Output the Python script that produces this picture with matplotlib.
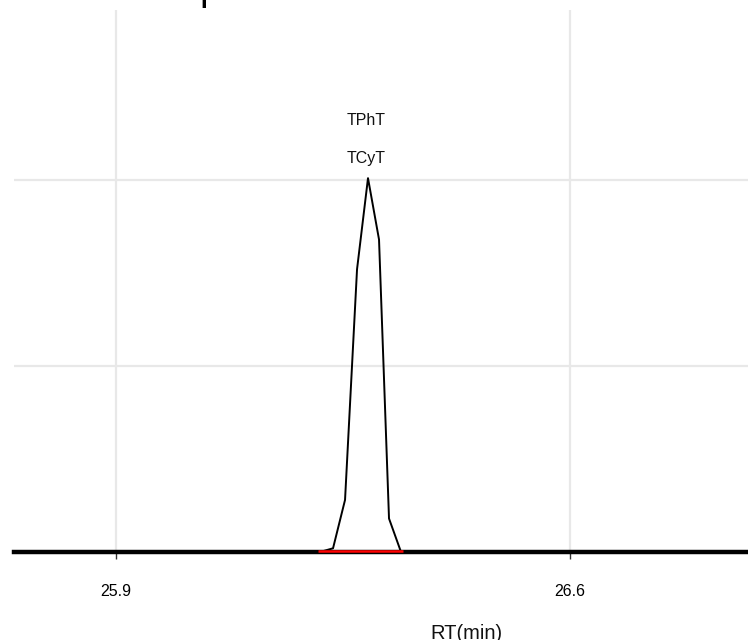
import matplotlib
matplotlib.use("Agg")
import matplotlib.pyplot as plt

plt.rcParams['font.family'] = ['Liberation Sans', 'DejaVu Sans']

# Chromatogram trace (retention time in minutes, intensity in arbitrary units)
rt = [25.7427, 26.2145, 26.2346, 26.2531, 26.2716, 26.2885, 26.3055, 26.3209, 26.3394, 26.8744]
intensity = [0.0, 0.0, 0.02, 0.28, 1.52, 2.01, 1.68, 0.18, 0.0, 0.0]

# Integrated peak window
peak_start, peak_end = 26.2115, 26.3425
peak_rt = 26.2885
peak_top = 2.01
peak_labels = ["TCyT", "TPhT"]

xticks = [25.9, 26.6]
xtick_labels = ["25.9", "26.6"]
ygrid = [1.0, 2.0]

fig = plt.figure(figsize=(7.48, 6.4), dpi=100)
ax = fig.add_axes([14 / 748, 88 / 640, 1 - 14 / 748, 542 / 640])

ax.set_xlim(rt[0], rt[-1])
ax.set_ylim(0, 2.914)

for x in xticks:
    ax.axvline(x, color="#e8e8e8", lw=1.6, zorder=0)
for y in ygrid:
    ax.axhline(y, color="#e8e8e8", lw=1.6, zorder=0)

ax.plot(rt, intensity, color="black", lw=1.4, zorder=2)
ax.axhline(0, color="black", lw=3.2, zorder=3, clip_on=False)
ax.plot([peak_start, peak_end], [0.005, 0.005], color="#ff0000", lw=1.8,
        zorder=4, solid_capstyle="butt", clip_on=False)

for i, lab in enumerate(peak_labels):
    ax.annotate(lab, (peak_rt, peak_top), xytext=(-2, 20 + 38 * i),
                textcoords="offset pixels", ha="center", va="center",
                fontsize=11.5, color="#111111")

for s in ax.spines.values():
    s.set_visible(False)
ax.set_yticks([])
ax.set_xticks(xticks)
ax.set_xticklabels(xtick_labels, fontsize=11.5)
ax.tick_params(axis="x", length=5, width=1, color="#333333", pad=18)

fig.text(466 / 748, 1 / 640, "RT(min)", ha="center", va="baseline",
         fontsize=14.5, color="#111111")
fig.text(210 / 748, 1.0, "p", ha="center", va="baseline",
         fontsize=28, color="black")

fig.savefig("out.png", dpi=100)
